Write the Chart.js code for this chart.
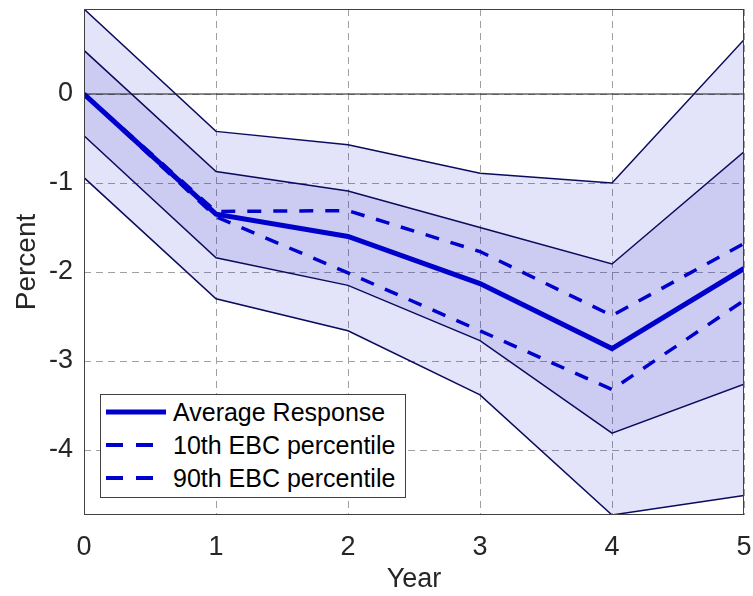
<!DOCTYPE html>
<html>
<head>
<meta charset="utf-8">
<script src="https://cdn.jsdelivr.net/npm/chart.js@4/dist/chart.umd.min.js"></script>
<style>
  html, body { margin: 0; padding: 0; background: #fff; }
  #wrap { position: relative; width: 753px; height: 596px; }
  #legend {
    position: absolute; left: 100px; top: 394px; width: 304px; height: 102px;
    border: 1px solid #404040; background: #fff;
    font-family: "Liberation Sans", Arial, sans-serif; font-size: 25px; color: #000;
  }
  #legend .row { position: absolute; left: 0; height: 30px; width: 100%; }
  #legend svg { position: absolute; left: 4px; top: 0; }
  #legend span { position: absolute; left: 72px; top: 0; line-height: 30px; white-space: nowrap; }
</style>
</head>
<body>
<div id="wrap">
  <canvas id="chart" width="753" height="596"></canvas>
  <div id="legend"></div>
</div>
<script>
// values
const years = [0, 1, 2, 3, 4, 5];
const average = [0, -1.35, -1.60, -2.13, -2.86, -1.96];
const pct10 = [0, -1.32, -1.31, -1.77, -2.49, -1.68];
const pct90 = [0, -1.38, -2.01, -2.66, -3.32, -2.32];
const upperInner = [0.49, -0.87, -1.09, -1.50, -1.91, -0.65];
const lowerInner = [-0.47, -1.84, -2.15, -2.77, -3.81, -3.26];
const upperOuter = [0.955, -0.42, -0.57, -0.89, -1.00, 0.61];
const lowerOuter = [-0.94, -2.30, -2.66, -3.38, -4.73, -4.51];
const zeroX = [0, 5];
const zeroY = [0, 0];
const xTicks = [0, 1, 2, 3, 4, 5];
const yTicks = [-4, -3, -2, -1, 0];
const legendLabels = ['Average Response', '10th EBC percentile', '90th EBC percentile'];

const pts = (xs, ys) => xs.map((x, i) => ({ x: x, y: ys[i] }));

const blue = '#0000cc';
const navy = '#0a0a5e';
const font = 'Liberation Sans, Arial, sans-serif';

const frame = {
  id: 'frame',
  afterDraw(chart) {
    const a = chart.chartArea, ctx = chart.ctx;
    ctx.save();
    ctx.strokeStyle = '#404040';
    ctx.lineWidth = 1;
    ctx.strokeRect(a.left + 0.5, a.top + 0.5, a.right - a.left - 1, a.bottom - a.top - 1);
    ctx.restore();
  }
};

const noPad = s => { s.paddingLeft = 0; s.paddingRight = 0; s.paddingTop = 0; s.paddingBottom = 0; };

new Chart(document.getElementById('chart'), {
  type: 'line',
  data: {
    datasets: [
      { label: legendLabels[0], data: pts(years, average), borderColor: blue, borderWidth: 5, pointRadius: 0, fill: false },
      { label: legendLabels[1], data: pts(years, pct10), borderColor: blue, borderWidth: 3.5, borderDash: [14, 12], pointRadius: 0, fill: false },
      { label: legendLabels[2], data: pts(years, pct90), borderColor: blue, borderWidth: 3.5, borderDash: [14, 12], pointRadius: 0, fill: false },
      { label: 'zero', data: pts(zeroX, zeroY), borderColor: '#1a1a1a', borderWidth: 1, pointRadius: 0, fill: false },
      { label: 'upper inner', data: pts(years, upperInner), borderColor: navy, borderWidth: 1.5, pointRadius: 0, fill: '+1', backgroundColor: 'rgba(0,0,200,0.10)' },
      { label: 'lower inner', data: pts(years, lowerInner), borderColor: navy, borderWidth: 1.5, pointRadius: 0, fill: false },
      { label: 'upper outer', data: pts(years, upperOuter), borderColor: navy, borderWidth: 1.5, pointRadius: 0, fill: '+1', backgroundColor: 'rgba(0,0,200,0.11)' },
      { label: 'lower outer', data: pts(years, lowerOuter), borderColor: navy, borderWidth: 1.5, pointRadius: 0, fill: false }
    ]
  },
  options: {
    responsive: false,
    animation: false,
    layout: { padding: { top: 9, right: 9, left: 0, bottom: 0 } },
    plugins: {
      legend: { display: false },
      tooltip: { enabled: false },
      filler: { drawTime: 'beforeDatasetsDraw' }
    },
    scales: {
      x: {
        type: 'linear', min: 0, max: 5,
        afterBuildTicks: s => { s.ticks = xTicks.map(v => ({ value: v })); },
        afterFit: s => { s.height = 81; noPad(s); },
        grid: { color: '#a0a0a0', lineWidth: 1, drawTicks: false },
        border: { display: false, dash: [7, 5] },
        ticks: { color: '#262626', padding: 16, font: { family: font, size: 27 } },
        title: { display: true, text: 'Year', color: '#262626', padding: { top: 0, bottom: 0 }, font: { family: font, size: 27 } }
      },
      y: {
        min: -4.73, max: 0.955,
        afterBuildTicks: s => { s.ticks = yTicks.map(v => ({ value: v })); },
        afterFit: s => { s.width = 84; noPad(s); },
        grid: { color: '#a0a0a0', lineWidth: 1, drawTicks: false },
        border: { display: false, dash: [7, 5] },
        ticks: { color: '#262626', padding: 11, font: { family: font, size: 27 } },
        title: { display: true, text: 'Percent', color: '#262626', padding: { top: 10, bottom: 0 }, font: { family: font, size: 28 } }
      }
    }
  },
  plugins: [frame]
});

// legend box, built from the labels above
const legend = document.getElementById('legend');
legendLabels.forEach((label, i) => {
  const row = document.createElement('div');
  row.className = 'row';
  row.style.top = (2 + i * 33) + 'px';
  const dash = i === 0 ? '' : 'stroke-dasharray="17 13"';
  const w = i === 0 ? 5 : 4;
  row.innerHTML = '<svg width="62" height="30"><line x1="1" y1="15" x2="61" y2="15" stroke="' + blue + '" stroke-width="' + w + '" ' + dash + '/></svg><span>' + label + '</span>';
  legend.appendChild(row);
});
</script>
</body>
</html>
